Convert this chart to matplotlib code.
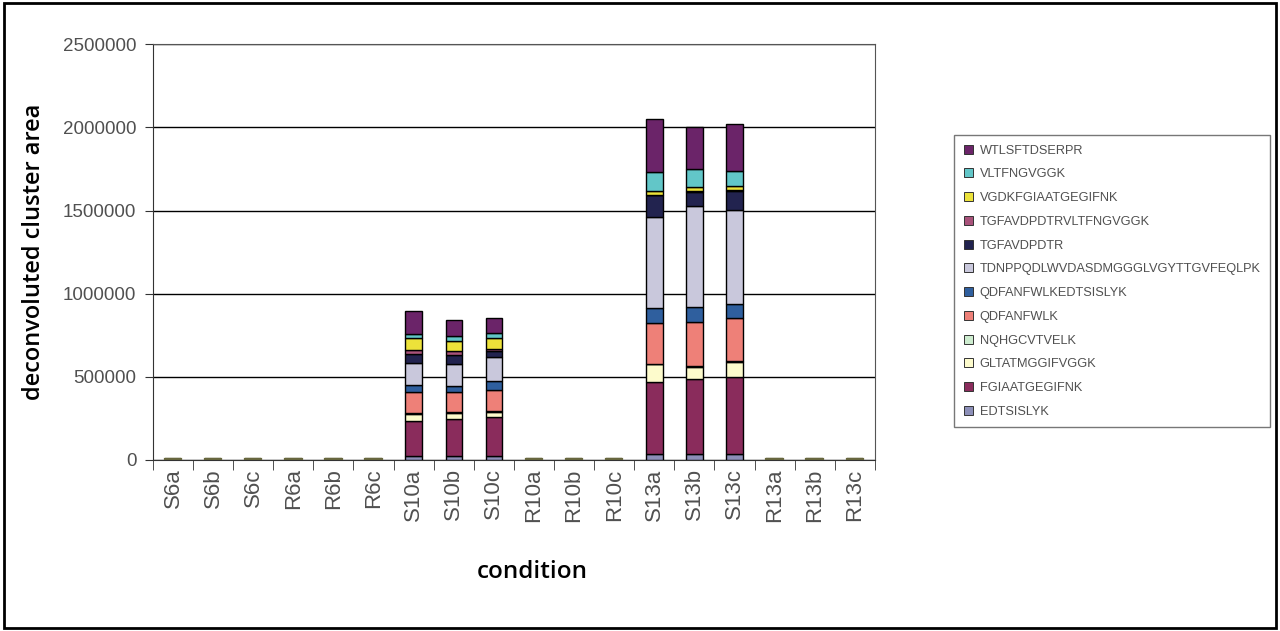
import matplotlib
matplotlib.use('Agg')
import matplotlib.pyplot as plt
import numpy as np

# conditions on the x axis
conditions = ['S6a', 'S6b', 'S6c', 'R6a', 'R6b', 'R6c',
              'S10a', 'S10b', 'S10c', 'R10a', 'R10b', 'R10c',
              'S13a', 'S13b', 'S13c', 'R13a', 'R13b', 'R13c']

# peptide series, stacked bottom to top
peptides = ['EDTSISLYK', 'FGIAATGEGIFNK', 'GLTATMGGIFVGGK', 'NQHGCVTVELK',
            'QDFANFWLK', 'QDFANFWLKEDTSISLYK', 'TDNPPQDLWVDASDMGGGLVGYTTGVFEQLPK',
            'TGFAVDPDTR', 'TGFAVDPDTRVLTFNGVGGK', 'VGDKFGIAATGEGIFNK',
            'VLTFNGVGGK', 'WTLSFTDSERPR']

colors = ['#8c8fb8', '#8a2c5c', '#fdfbcc', '#cdeccf', '#ee8078', '#2f5f9e',
          '#c9c8dc', '#22234f', '#a8527a', '#ece23a', '#62c6c8', '#6b2469']

# values per peptide, one per condition (order as in `conditions`)
EDTSISLYK            = [0, 0, 0, 0, 0, 0, 24000, 24000, 24000, 0, 0, 0, 35000, 35000, 35000, 0, 0, 0]
FGIAATGEGIFNK        = [2000, 2000, 2000, 2000, 2000, 2000, 212000, 220000, 232000, 2000, 2000, 2000, 435000, 450000, 466000, 2000, 2000, 2000]
GLTATMGGIFVGGK       = [0, 0, 0, 0, 0, 0, 40000, 36000, 35000, 0, 0, 0, 105000, 76000, 90000, 0, 0, 0]
NQHGCVTVELK          = [0, 0, 0, 0, 0, 0, 8000, 6000, 6000, 0, 0, 0, 5000, 5000, 5000, 0, 0, 0]
QDFANFWLK            = [0, 0, 0, 0, 0, 0, 126000, 120000, 126000, 0, 0, 0, 246000, 266000, 260000, 0, 0, 0]
QDFANFWLKEDTSISLYK   = [0, 0, 0, 0, 0, 0, 40000, 40000, 50000, 0, 0, 0, 88000, 86000, 84000, 0, 0, 0]
TDNPPQDLWVDASDMGGGLVGYTTGVFEQLPK = [0, 0, 0, 0, 0, 0, 134000, 134000, 144000, 0, 0, 0, 547000, 609000, 563000, 0, 0, 0]
TGFAVDPDTR           = [0, 0, 0, 0, 0, 0, 52000, 52000, 40000, 0, 0, 0, 130000, 84000, 114000, 0, 0, 0]
TGFAVDPDTRVLTFNGVGGK = [0, 0, 0, 0, 0, 0, 24000, 24000, 10000, 0, 0, 0, 5000, 5000, 5000, 0, 0, 0]
VGDKFGIAATGEGIFNK    = [4000, 4000, 4000, 4000, 4000, 4000, 76000, 60000, 64000, 4000, 4000, 4000, 24000, 24000, 24000, 4000, 4000, 4000]
VLTFNGVGGK           = [0, 0, 0, 0, 0, 0, 20000, 28000, 30000, 0, 0, 0, 110000, 112000, 94000, 0, 0, 0]
WTLSFTDSERPR         = [0, 0, 0, 0, 0, 0, 140000, 96000, 95000, 0, 0, 0, 323000, 250000, 280000, 0, 0, 0]

series = [EDTSISLYK, FGIAATGEGIFNK, GLTATMGGIFVGGK, NQHGCVTVELK, QDFANFWLK,
          QDFANFWLKEDTSISLYK, TDNPPQDLWVDASDMGGGLVGYTTGVFEQLPK, TGFAVDPDTR,
          TGFAVDPDTRVLTFNGVGGK, VGDKFGIAATGEGIFNK, VLTFNGVGGK, WTLSFTDSERPR]

fig = plt.figure(figsize=(12.8, 6.31), dpi=100)
ax = fig.add_axes([0.1195, 0.271, 0.564, 0.659])

x = np.arange(len(conditions))
bottom = np.zeros(len(conditions))
for name, vals, c in zip(peptides, series, colors):
    vals = np.array(vals)
    # tiny stacks look olive, not black, in the original
    big = bottom + vals > 20000
    lw = np.where(big, 1.0, 1.6)
    ec = ['black' if b else '#67663e' for b in big]
    ax.bar(x, vals, width=0.41, bottom=bottom, color=c, edgecolor=ec,
           linewidth=lw, label=name, zorder=3)
    bottom += vals

ax.set_ylim(0, 2500000)
ax.set_xlim(-0.5, len(conditions) - 0.5)
ax.set_yticks(np.arange(0, 2500001, 500000))
ax.set_yticklabels([str(v) for v in range(0, 2500001, 500000)],
                   fontsize=13.5, color='#505050', family='Liberation Sans')
ax.yaxis.grid(True, color='black', linewidth=1.0, zorder=0)

ax.set_xticks(x)
ax.set_xticklabels(conditions, rotation=90, fontsize=16, color='#505050',
                   family='Liberation Sans')
ax.tick_params(axis='x', which='major', length=0, pad=6)
ax.set_xticks(np.arange(-0.5, len(conditions), 1), minor=True)
ax.tick_params(axis='x', which='minor', length=7, direction='out', color='#333333')
ax.tick_params(axis='y', length=6, direction='out', color='#333333', pad=6)

for s in ['top', 'right']:
    ax.spines[s].set_color('#555555')
for s in ['left', 'bottom']:
    ax.spines[s].set_color('#333333')

ax.set_ylabel('deconvoluted cluster area', family='Open Sans', fontsize=17,
              fontweight='semibold', labelpad=12)
ax.set_xlabel('condition', family='Open Sans', fontsize=17.5, fontweight='semibold')
ax.xaxis.set_label_coords(0.526, -0.24)

handles, labels = ax.get_legend_handles_labels()
leg = fig.legend(handles[::-1], labels[::-1], loc='upper left',
                 bbox_to_anchor=(954 / 1280, 1 - 135 / 631),
                 prop={'family': 'Liberation Sans', 'size': 9.2},
                 frameon=True, fancybox=False, edgecolor='#555555',
                 handlelength=0.7, handleheight=0.7, handletextpad=0.55,
                 labelspacing=0.92, borderpad=0.75, borderaxespad=0.0,
                 labelcolor='#505050')
leg.get_frame().set_linewidth(1.0)
for h in leg.legend_handles:
    h.set_edgecolor('#333333')
    h.set_linewidth(0.7)

# outer frame around the whole picture
fig.patches.append(plt.Rectangle((0.003, 0.005), 0.994, 0.99, transform=fig.transFigure,
                                 fill=False, edgecolor='black', linewidth=2))

plt.savefig('out.png', dpi=100)
